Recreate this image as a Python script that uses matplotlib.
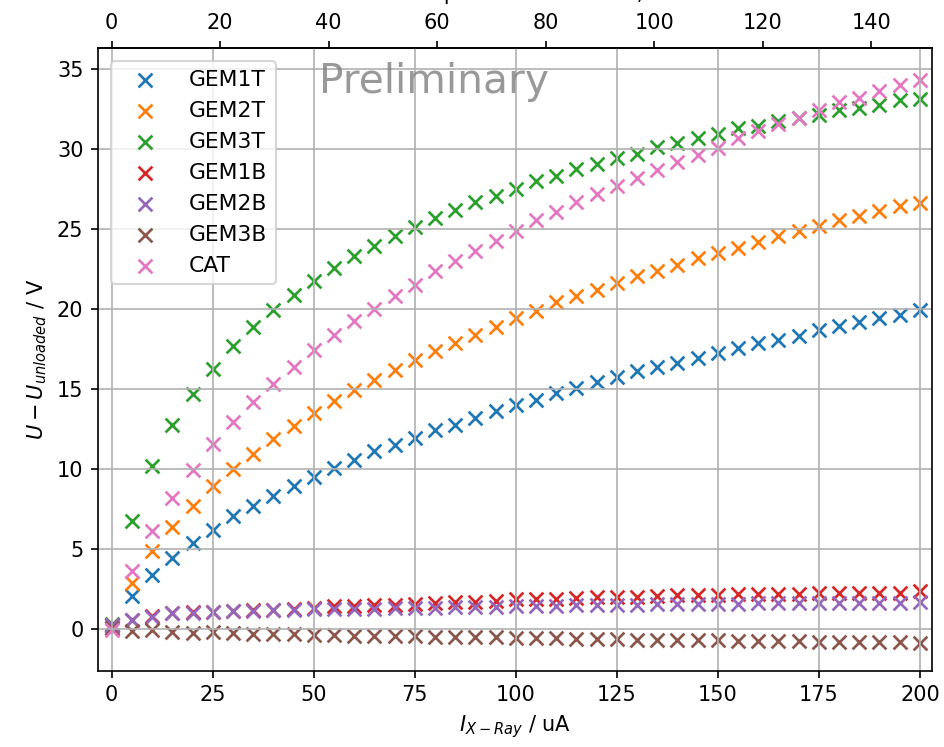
import matplotlib
matplotlib.use("Agg")
import matplotlib.pyplot as plt

# X-ray tube current / uA
current = [0, 5, 10, 15, 20, 25, 30, 35, 40, 45,
           50, 55, 60, 65, 70, 75, 80, 85, 90, 95,
           100, 105, 110, 115, 120, 125, 130, 135, 140, 145,
           150, 155, 160, 165, 170, 175, 180, 185, 190, 195,
           200]

gem1t = [0.1, 2.04, 3.39, 4.44, 5.37, 6.21, 7.04, 7.7, 8.29, 8.91,
         9.5, 10.06, 10.58, 11.1, 11.52, 11.94, 12.46, 12.77, 13.19, 13.6,
         14.02, 14.33, 14.75, 15.06, 15.41, 15.77, 16.1, 16.37, 16.62, 16.94,
         17.25, 17.56, 17.87, 18.08, 18.33, 18.7, 18.91, 19.16, 19.44, 19.64,
         19.95]
gem2t = [0.2, 2.87, 4.85, 6.41, 7.66, 8.91, 10.0, 10.96, 11.87, 12.7,
         13.48, 14.23, 14.96, 15.58, 16.2, 16.83, 17.35, 17.87, 18.39, 18.9,
         19.44, 19.85, 20.41, 20.79, 21.2, 21.61, 22.04, 22.35, 22.77, 23.19,
         23.5, 23.81, 24.16, 24.58, 24.85, 25.16, 25.54, 25.83, 26.1, 26.41,
         26.63]
gem3t = [0.3, 6.73, 10.16, 12.77, 14.7, 16.27, 17.7, 18.85, 19.96, 20.9,
         21.72, 22.56, 23.33, 23.96, 24.58, 25.1, 25.69, 26.16, 26.66, 27.08,
         27.5, 27.98, 28.33, 28.75, 29.08, 29.41, 29.7, 30.12, 30.37, 30.69,
         30.96, 31.31, 31.46, 31.73, 31.95, 32.14, 32.46, 32.56, 32.77, 33.04,
         33.1]
gem1b = [0.25, 0.55, 0.8, 1.0, 1.05, 1.1, 1.15, 1.17, 1.2, 1.25,
         1.3, 1.45, 1.42, 1.5, 1.52, 1.58, 1.6, 1.7, 1.72, 1.78,
         1.85, 1.88, 1.9, 1.95, 1.98, 2.0, 2.02, 2.08, 2.1, 2.1,
         2.12, 2.18, 2.18, 2.2, 2.2, 2.25, 2.25, 2.26, 2.27, 2.28,
         2.35]
gem2b = [0.25, 0.55, 0.78, 0.98, 1.0, 1.08, 1.12, 1.15, 1.18, 1.22,
         1.25, 1.25, 1.26, 1.28, 1.3, 1.35, 1.35, 1.37, 1.38, 1.4,
         1.42, 1.45, 1.46, 1.48, 1.5, 1.52, 1.52, 1.55, 1.55, 1.57,
         1.58, 1.58, 1.6, 1.6, 1.6, 1.62, 1.62, 1.63, 1.65, 1.65,
         1.68]
gem3b = [0.1, -0.1, -0.05, -0.2, -0.25, -0.2, -0.25, -0.3, -0.3, -0.32,
         -0.35, -0.35, -0.4, -0.45, -0.42, -0.45, -0.48, -0.5, -0.5, -0.52,
         -0.55, -0.55, -0.58, -0.6, -0.6, -0.62, -0.65, -0.65, -0.68, -0.7,
         -0.7, -0.72, -0.72, -0.75, -0.75, -0.78, -0.78, -0.8, -0.8, -0.82,
         -0.88]
cat = [-0.05, 3.6, 6.1, 8.19, 9.96, 11.58, 12.91, 14.16, 15.31, 16.37,
       17.46, 18.39, 19.23, 20.0, 20.79, 21.52, 22.35, 22.98, 23.6, 24.23,
       24.85, 25.54, 26.04, 26.66, 27.2, 27.7, 28.19, 28.7, 29.16, 29.64,
       30.06, 30.69, 31.1, 31.58, 31.94, 32.46, 32.91, 33.19, 33.6, 34.02,
       34.3]

series = {
    "GEM1T": gem1t,
    "GEM2T": gem2t,
    "GEM3T": gem3t,
    "GEM1B": gem1b,
    "GEM2B": gem2b,
    "GEM3B": gem3b,
    "CAT": cat,
}

RATE_PER_UA = 0.745

fig = plt.figure(figsize=(944 / 150, 747 / 150), dpi=150)
ax = fig.add_axes([0.1038, 0.1021, 0.8835, 0.8336])

for name, values in series.items():
    ax.scatter(current, values, marker="x", s=44, linewidths=1.3, label=name)

ax.set_xlim(-3.4, 203.0)
ax.set_ylim(-2.6, 36.3)
ax.set_xlabel(r"$I_{X-Ray}$ / uA")
ax.set_ylabel(r"$U - U_{unloaded}$ / V")
ax.grid()
ax.legend(loc="upper left", fontsize=10.5, handlelength=2.3, handletextpad=0.85,
          borderaxespad=0.6)

top = ax.secondary_xaxis("top", functions=(lambda v: v * RATE_PER_UA,
                                            lambda v: v / RATE_PER_UA))
top.set_xticks([0, 20, 40, 60, 80, 100, 120, 140])
# the top label sits mostly above the canvas, as in the original export
top.set_xlabel("Estimated photon rate in kHz, calc.", labelpad=6.5)

ax.text(0.265, 0.978, "Preliminary", transform=ax.transAxes, ha="left", va="top",
        fontsize=19.5, color="gray", alpha=0.8)

fig.savefig("out.png", dpi=150)
